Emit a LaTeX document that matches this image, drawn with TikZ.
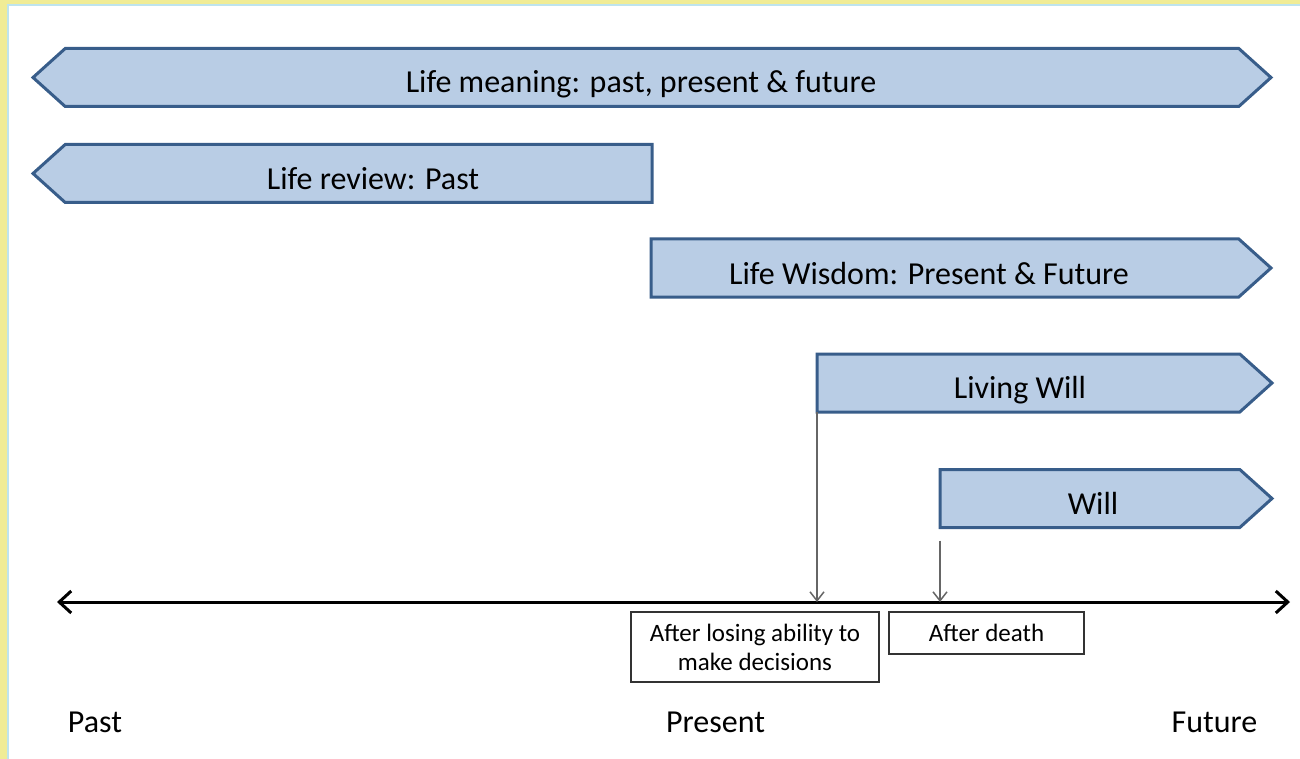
\documentclass[tikz,border=0pt]{standalone}
\usepackage{fontspec}
\setmainfont{Carlito}
\usetikzlibrary{shapes.symbols,arrows.meta}
\definecolor{bandfill}{RGB}{185,205,229}
\definecolor{bandline}{RGB}{56,93,138}
\definecolor{frameyellow}{RGB}{240,236,150}
\definecolor{frameblue}{RGB}{190,228,238}
\tikzset{
  band/.style={signal, signal pointer angle=84, draw=bandline, fill=bandfill,
    line width=3pt, inner sep=0pt, outer sep=0pt, minimum height=58pt},
  bandtext/.style={font=\fontsize{32}{37}\selectfont},
  note/.style={draw=black!80, line width=1.3pt, align=center, inner sep=0pt,
    font=\fontsize{25}{29}\selectfont},
  drop/.style={draw=black!60, line width=1.5pt, -{Straight Barb[length=9pt,width=14pt]}},
  era/.style={font=\fontsize{32}{37}\selectfont}
}
\begin{document}
\begin{tikzpicture}[x=1pt,y=-1pt]
  \useasboundingbox (0,0) rectangle (1300,759);
  % frame
  \fill[frameyellow] (0,0) rectangle (1300,759);
  \fill[white] (8,5) rectangle (1300,759);
  \draw[frameblue, line width=1.5pt] (8,759) -- (8,5) -- (1300,5);

  % bands
  \node[band, signal to=west and east, minimum width=1238pt] (meaning) at (652,77.5) {};
  \node[band, signal to=west, minimum width=619pt, anchor=east] (review) at (652,173.5) {};
  \node[band, signal to=east, minimum width=620pt, anchor=west] (wisdom) at (651,268) {};
  \node[band, signal to=east, minimum width=455pt, anchor=west] (living) at (817,383) {};
  \node[band, signal to=east, minimum width=332pt, anchor=west] (will) at (940,498.5) {};

  \node[bandtext] (meaningtxt) at (641,84) {Life meaning: past, present \& future};
  \node[bandtext] (reviewtxt) at (373,179) {Life review: Past};
  \node[bandtext] (wisdomtxt) at (929,274) {Life Wisdom: Present \& Future};
  \node[bandtext] (livingtxt) at (1020,390) {Living Will};
  \node[bandtext] (willtxt) at (1093,503) {Will};

  % time axis
  \coordinate (pastend) at (57,602);
  \coordinate (futureend) at (1290,602);
  \draw[line width=3pt, {Straight Barb[length=12pt,width=22pt]}-{Straight Barb[length=12pt,width=22pt]}]
    (pastend) -- (futureend);

  \draw[drop] (living.south west) -- (living.south west |- pastend);
  \draw[drop] ([yshift=-13pt]will.south west) -- (will.south west |- pastend);

  \node[note, minimum width=248pt, minimum height=70pt] (losing) at (755,647)
    {After losing ability to\\make decisions};
  \node[note, minimum width=195pt, minimum height=42pt] (death) at (986.5,633) {After death};

  \node[era] (past) at (95,722) {Past};
  \node[era] (present) at (715.5,722) {Present};
  \node[era] (future) at (1214.5,722) {Future};
\end{tikzpicture}
\end{document}
